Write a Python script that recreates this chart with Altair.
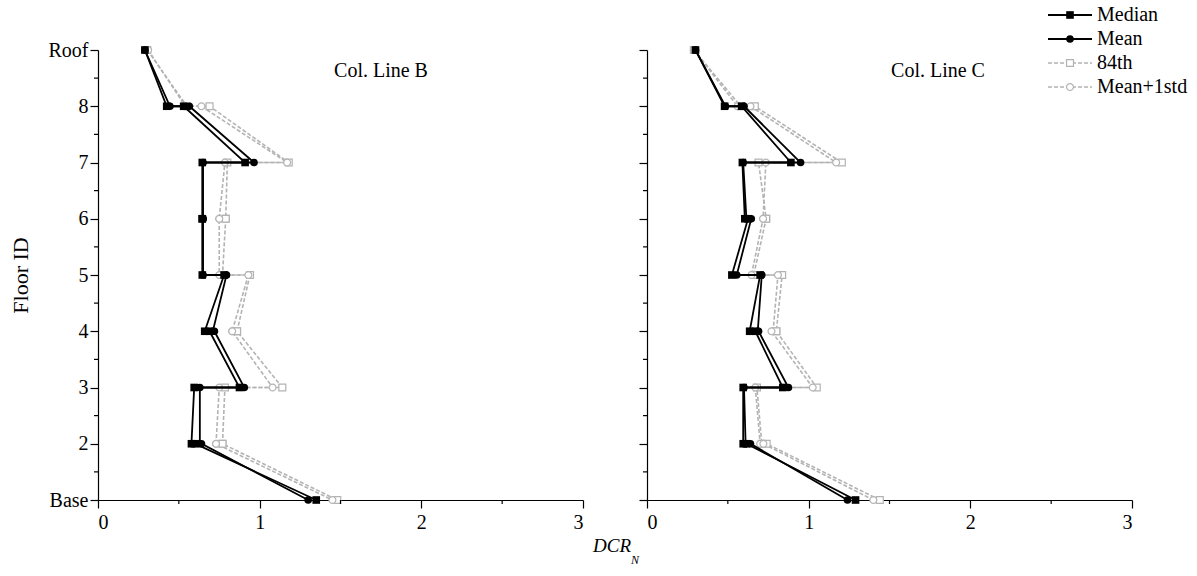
import altair as alt
import pandas as pd

# Storey numbering: storey s spans floor level s (bottom) to s+1 (top); level 1 = Base, 9 = Roof
stories = [8, 7, 6, 5, 4, 3, 2, 1]
stats = ["Median", "Mean", "84th", "Mean+1std"]

# Column line B: DCR at column top / bottom for each storey (8 -> 1)
b_median_top = [0.29, 0.53, 0.645, 0.645, 0.78, 0.69, 0.595, 0.60]
b_median_bot = [0.425, 0.91, 0.645, 0.645, 0.66, 0.875, 0.578, 1.35]
b_mean_top = [0.29, 0.565, 0.65, 0.65, 0.795, 0.72, 0.63, 0.64]
b_mean_bot = [0.445, 0.965, 0.65, 0.65, 0.71, 0.905, 0.63, 1.30]
b_p84_top = [0.305, 0.69, 0.80, 0.79, 0.94, 0.86, 0.785, 0.77]
b_p84_bot = [0.55, 1.18, 0.79, 0.77, 0.86, 1.14, 0.77, 1.48]
b_m1s_top = [0.31, 0.64, 0.785, 0.75, 0.93, 0.83, 0.75, 0.73]
b_m1s_bot = [0.54, 1.17, 0.75, 0.75, 0.83, 1.08, 0.73, 1.45]

# Column line C
c_median_top = [0.30, 0.585, 0.59, 0.625, 0.70, 0.67, 0.595, 0.615]
c_median_bot = [0.48, 0.89, 0.605, 0.525, 0.635, 0.84, 0.595, 1.29]
c_mean_top = [0.30, 0.60, 0.595, 0.645, 0.71, 0.69, 0.60, 0.64]
c_mean_bot = [0.485, 0.95, 0.615, 0.555, 0.685, 0.875, 0.61, 1.24]
c_p84_top = [0.29, 0.667, 0.69, 0.737, 0.836, 0.80, 0.68, 0.74]
c_p84_bot = [0.58, 1.205, 0.737, 0.66, 0.80, 1.05, 0.71, 1.44]
c_m1s_top = [0.29, 0.64, 0.735, 0.718, 0.81, 0.77, 0.67, 0.72]
c_m1s_bot = [0.56, 1.17, 0.718, 0.646, 0.78, 1.025, 0.70, 1.40]

GREY = "#b3b3b3"
FONT = "Liberation Serif"
W, H = 485, 450


def profile(series):
    rows = []
    for stat, (top, bot) in series.items():
        seq = 0
        for s, t, b in zip(stories, top, bot):
            rows.append({"stat": stat, "dcr": t, "level": s + 1, "seq": seq})
            rows.append({"stat": stat, "dcr": b, "level": s, "seq": seq + 1})
            seq += 2
    return pd.DataFrame(rows)


df_b = profile({
    "Median": (b_median_top, b_median_bot),
    "Mean": (b_mean_top, b_mean_bot),
    "84th": (b_p84_top, b_p84_bot),
    "Mean+1std": (b_m1s_top, b_m1s_bot),
})
df_c = profile({
    "Median": (c_median_top, c_median_bot),
    "Mean": (c_mean_top, c_mean_bot),
    "84th": (c_p84_top, c_p84_bot),
    "Mean+1std": (c_m1s_top, c_m1s_bot),
})

shape_scale = alt.Scale(domain=stats, range=["square", "circle", "square", "circle"])
label_expr = "datum.value == 1 ? 'Base' : datum.value == 9 ? 'Roof' : datum.value"


def panel(df, title, title_x, show_y_labels):
    x = alt.X("dcr:Q", scale=alt.Scale(domain=[0, 3], nice=False),
              axis=alt.Axis(values=[0, 1, 2, 3], title=None, format="d", labelPadding=4))
    if show_y_labels:
        yax = alt.Axis(values=list(range(1, 10)), labelExpr=label_expr, title="Floor ID",
                       titleFont=FONT, titleFontSize=22, titleFontWeight="normal",
                       titleColor="black", titlePadding=16)
    else:
        yax = alt.Axis(values=list(range(1, 10)), labels=False, title=None)
    y = alt.Y("level:Q", scale=alt.Scale(domain=[1, 9], nice=False, zero=False), axis=yax)

    base = alt.Chart(df).encode(x=x, y=y, order="seq:Q", detail="stat:N")
    grey = base.transform_filter(alt.FieldOneOfPredicate(field="stat", oneOf=["84th", "Mean+1std"]))
    black = base.transform_filter(alt.FieldOneOfPredicate(field="stat", oneOf=["Median", "Mean"]))

    grey_lines = grey.mark_line(color=GREY, strokeWidth=1.6, strokeDash=[4, 2])
    grey_pts = grey.mark_point(filled=True, fill="white", stroke=GREY, strokeWidth=1.2,
                               size=48, opacity=1).encode(
        shape=alt.Shape("stat:N", scale=shape_scale, legend=None))
    black_lines = black.mark_line(color="black", strokeWidth=1.8)
    black_pts = black.mark_point(filled=True, color="black", size=58, opacity=1).encode(
        shape=alt.Shape("stat:N", scale=shape_scale, legend=None))

    # minor ticks
    xminor = alt.Chart(pd.DataFrame({"v": [0.5, 1.5, 2.5]})).mark_rule(
        color="black", strokeWidth=1.2).encode(
        x=alt.X("v:Q"), y=alt.value(H), y2=alt.value(H + 4))
    yminor = alt.Chart(pd.DataFrame({"v": [1.5 + i for i in range(8)]})).mark_rule(
        color="black", strokeWidth=1.2).encode(
        y=alt.Y("v:Q"), x=alt.value(0), x2=alt.value(-4))

    ttl = alt.Chart(pd.DataFrame({"t": [title]})).mark_text(
        font=FONT, fontSize=20, color="black", align="center", baseline="middle").encode(
        text="t:N", x=alt.value(title_x), y=alt.value(21))

    return [grey_lines, grey_pts, black_lines, black_pts, xminor, yminor, ttl]


layers_b = panel(df_b, "Col. Line B", 283, True)
layers_c = panel(df_c, "Col. Line C", 291, False)

# shared x-axis title, drawn under the left panel and centred between the panels
xtitle = alt.Chart(pd.DataFrame({"t": ["DCR"]})).mark_text(
    font=FONT, fontSize=19, fontStyle="italic", color="black",
    align="right", baseline="alphabetic").encode(
    text="t:N", x=alt.value(533), y=alt.value(502))
xsub = alt.Chart(pd.DataFrame({"t": ["N"]})).mark_text(
    font=FONT, fontSize=12, fontStyle="italic", color="black",
    align="left", baseline="alphabetic").encode(
    text="t:N", x=alt.value(533), y=alt.value(514))

# legend, drawn in the right panel's top-right corner
leg = pd.DataFrame({"stat": stats, "row": list(range(len(stats)))})
leg_base = alt.Chart(leg).transform_calculate(ly="-35 + 24 * datum.row")
ly = alt.Y("ly:Q", scale=None, axis=None)
leg_black = leg_base.transform_filter("datum.row < 2")
leg_grey = leg_base.transform_filter("datum.row >= 2")
leg_layers = [
    leg_black.mark_rule(color="black", strokeWidth=1.8).encode(
        y=ly, x=alt.value(401), x2=alt.value(445)),
    leg_grey.mark_rule(color=GREY, strokeWidth=1.5, strokeDash=[4, 2]).encode(
        y=ly, x=alt.value(401), x2=alt.value(445)),
    leg_black.mark_point(filled=True, color="black", size=58, opacity=1).encode(
        y=ly, x=alt.value(423), shape=alt.Shape("stat:N", scale=shape_scale, legend=None)),
    leg_grey.mark_point(filled=True, fill="white", stroke=GREY, strokeWidth=1.2, size=48,
                        opacity=1).encode(
        y=ly, x=alt.value(423), shape=alt.Shape("stat:N", scale=shape_scale, legend=None)),
    leg_base.mark_text(font=FONT, fontSize=20, color="black", align="left",
                       baseline="middle").encode(y=ly, x=alt.value(450), text="stat:N"),
]

left = alt.layer(*layers_b, xtitle, xsub).properties(width=W, height=H)
right = alt.layer(*layers_c, *leg_layers).properties(width=W, height=H)

chart = alt.hconcat(left, right, spacing=64, bounds="flush").properties(
    padding={"left": 9, "top": 5, "right": 3, "bottom": 5}
).configure_view(stroke=None).configure_axis(
    grid=False, domainColor="black", domainWidth=1.2, tickColor="black", tickWidth=1.2,
    tickSize=8, labelFont=FONT, labelFontSize=20, labelColor="black", labelPadding=2,
)

chart.save("out.html", embed_options={"renderer": "svg", "actions": False})
